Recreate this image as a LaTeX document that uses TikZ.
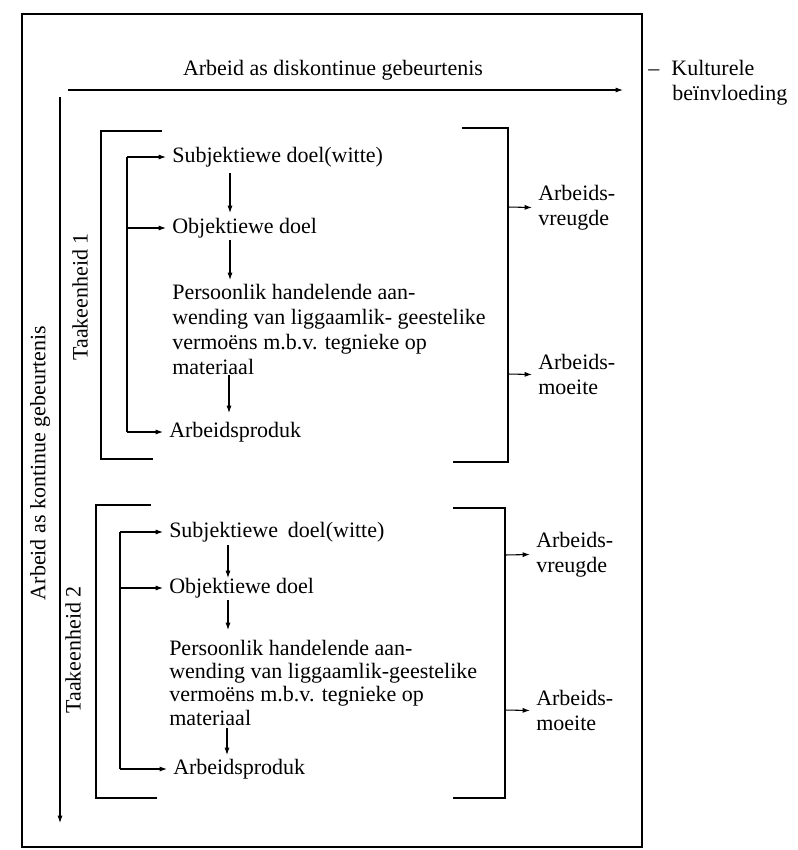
\documentclass[tikz,border=0pt]{standalone}
\usepackage{fontspec}
\setmainfont{Liberation Serif}
\usetikzlibrary{arrows.meta}
\begin{document}
\begin{tikzpicture}[x=0.75pt,y=-0.75pt,
  every node/.style={font=\fontsize{16.5}{18.75}\selectfont, inner xsep=4.5pt, inner ysep=4pt},
  txt/.style={anchor=west, align=left},
  flow/.style={-{Latex[length=5.5pt,width=3.8pt]}, line width=0.8pt},
  ln/.style={line width=0.9pt}]
\useasboundingbox (0,0) rectangle (798,850);
% outer frame
\draw[ln] (22,14) rectangle (642,847);
% discontinuous
\node (dis) at (333,70) {Arbeid as diskontinue gebeurtenis};
\coordinate (dS) at (68,90);
\coordinate (dE) at (623,90);
\draw[flow] (dS) -- (dE);
\node[txt, inner xsep=0pt] (kul) at (648,82.5) {–\hspace{0.55em}Kulturele\\\hspace*{1.1em}beïnvloeding};
% continuous
\coordinate (kS) at (60,97);
\coordinate (kE) at (60,823);
\draw[flow] (kS) -- (kE);
\node[rotate=90] (kon) at (40,463) {Arbeid as kontinue gebeurtenis};
% ---------- Taakeenheid 1 ----------
\node[rotate=90] (t1) at (80,297) {Taakeenheid 1};
\node[txt] (s1) at (166,157) {Subjektiewe doel(witte)};
\node[txt] (o1) at (166,228) {Objektiewe doel};
\node[txt] (p1) at (166,329.5) {Persoonlik handelende aan-\\wending van liggaamlik- geestelike\\vermoëns m.b.v. tegnieke op\\materiaal};
\node[txt] (a1) at (163,432) {Arbeidsproduk};
\draw[flow] (230,173) -- (230,213);
\draw[flow] (230,240) -- (230,280);
\draw[flow] (229,375) -- (229,413);
\coordinate (b1t) at (127,157);
\coordinate (b1b) at (127,432);
\draw[ln] (b1t) -- (b1b);
\draw[flow] (b1t) -- (s1.west);
\draw[flow] (127,228) -- (o1.west);
\draw[flow] (b1b) -- (a1.west);
\draw[ln] (162,131) -- (101,131) -- (101,459) -- (153,459);
\draw[ln] (462,128) -- (508,128) -- (508,462) -- (453,462);
\node[txt] (v1) at (532,207.5) {Arbeids-\\vreugde};
\node[txt] (m1) at (532,374.5) {Arbeids-\\moeite};
\draw[flow] (508,207) -- (v1.west);
\draw[flow] (508,374) -- (m1.west);
% ---------- Taakeenheid 2 ----------
\node[rotate=90] (t2) at (73,650) {Taakeenheid 2};
\node[txt] (s2) at (163,532) {Subjektiewe\hspace{0.45em}doel(witte)};
\node[txt] (o2) at (163,588) {Objektiewe doel};
\node[txt, font=\fontsize{16.5}{17.5}\selectfont] (p2) at (163,682.5) {Persoonlik handelende aan-\\wending van liggaamlik-geestelike\\vermoëns m.b.v. tegnieke op\\materiaal};
\node[txt] (a2) at (167,769) {Arbeidsproduk};
\draw[flow] (228,545) -- (228,578);
\draw[flow] (228,600) -- (228,630);
\draw[flow] (227,728) -- (227,755);
\coordinate (b2t) at (120,532);
\coordinate (b2b) at (120,769);
\draw[ln] (b2t) -- (b2b);
\draw[flow] (b2t) -- (s2.west);
\draw[flow] (120,588) -- (o2.west);
\draw[flow] (b2b) -- (a2.west);
\draw[ln] (151,505) -- (96,505) -- (96,798) -- (157,798);
\draw[ln] (453,508) -- (505,508) -- (505,798) -- (453,798);
\node[txt] (v2) at (530,554.5) {Arbeids-\\vreugde};
\node[txt] (m2) at (530,710.5) {Arbeids-\\moeite};
\draw[flow] (505,555) -- (v2.west);
\draw[flow] (505,710) -- (m2.west);
\end{tikzpicture}
\end{document}
